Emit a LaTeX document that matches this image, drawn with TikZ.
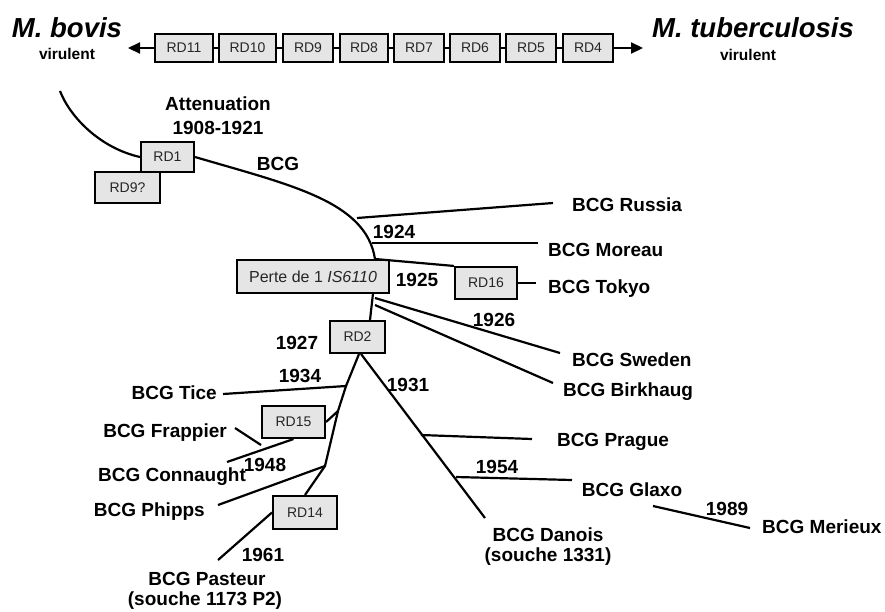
\documentclass[tikz,border=0pt]{standalone}
\usepackage{fontspec}
\setmainfont{Liberation Sans}
\usetikzlibrary{arrows.meta}
\begin{document}
\begin{tikzpicture}[x=1pt,y=-1pt,
  rdbox/.style={draw, line width=2.1pt, fill=black!10, inner sep=0pt, text=black!85,
    font=\fontsize{14}{16}\selectfont},
  lab/.style={font=\bfseries\fontsize{19}{22}\selectfont, inner sep=0pt},
  sp/.style={font=\bfseries\itshape\fontsize{27.5}{30}\selectfont, inner sep=0pt},
  vir/.style={font=\bfseries\fontsize{15.5}{17}\selectfont, inner sep=0pt},
  br/.style={line width=2.2pt},
  tip/.style={-{Triangle[length=12pt,width=11pt]}}
  ]
\useasboundingbox (0,0) rectangle (885,611);
% top row
\node[rdbox, minimum width=58pt, minimum height=28pt] (rd11) at (184,48) {RD11};
\node[rdbox, minimum width=57pt, minimum height=28pt] (rd10) at (247.5,48) {RD10};
\node[rdbox, minimum width=50pt, minimum height=28pt] (rd9) at (308,48) {RD9};
\node[rdbox, minimum width=48pt, minimum height=28pt] (rd8) at (364,48) {RD8};
\node[rdbox, minimum width=50pt, minimum height=28pt] (rd7) at (419,48) {RD7};
\node[rdbox, minimum width=50pt, minimum height=28pt] (rd6) at (475,48) {RD6};
\node[rdbox, minimum width=50pt, minimum height=28pt] (rd5) at (531,48) {RD5};
\node[rdbox, minimum width=50pt, minimum height=28pt] (rd4) at (588,48) {RD4};
\coordinate (tipL) at (128,48);
\coordinate (tipR) at (643,48);
\draw[br,tip] (rd11.west) -- (tipL);
\draw[br,tip] (rd4.east) -- (tipR);
\draw[br] (rd11) -- (rd10);
\draw[br] (rd10) -- (rd9);
\draw[br] (rd9) -- (rd8);
\draw[br] (rd8) -- (rd7);
\draw[br] (rd7) -- (rd6);
\draw[br] (rd6) -- (rd5);
\draw[br] (rd5) -- (rd4);
\node[sp] (bovis) at (67,28) {M. bovis};
\node[vir] (virL) at (67,54) {virulent};
\node[sp] (tuber) at (753,28) {M. tuberculosis};
\node[vir] (virR) at (748,55) {virulent};

% boxes of tree
\node[rdbox, minimum width=65pt, minimum height=31pt] (rd9q) at (127.5,187.5) {RD9?};
\node[rdbox, minimum width=53pt, minimum height=30pt] (rd1) at (167.5,157) {RD1};
\node[rdbox, minimum width=152pt, minimum height=33pt, font=\fontsize{16}{18}\selectfont] (perte) at (313,276.5) {Perte de 1 \textit{IS6110}};
\node[rdbox, minimum width=62pt, minimum height=32pt] (rd16) at (486,283) {RD16};
\node[rdbox, minimum width=55pt, minimum height=32pt] (rd2) at (357.5,337) {RD2};
\node[rdbox, minimum width=63pt, minimum height=32pt] (rd15) at (293.5,422) {RD15};
\node[rdbox, minimum width=64pt, minimum height=33pt] (rd14) at (305,512.5) {RD14};

% labels
\node[lab] (att) at (218,104) {Attenuation};
\node[lab] (attd) at (218,128) {1908-1921};
\node[lab] (bcg) at (278,164) {BCG};
\node[lab, anchor=west] (russia) at (572,205) {BCG Russia};
\node[lab] (y1924) at (394,232) {1924};
\node[lab, anchor=west] (moreau) at (548,250) {BCG Moreau};
\node[lab] (y1925) at (417,280) {1925};
\node[lab, anchor=west] (tokyo) at (548,289) {BCG Tokyo};
\node[lab] (y1926) at (494,320) {1926};
\node[lab, anchor=west] (sweden) at (572,360) {BCG Sweden};
\node[lab, anchor=west] (birk) at (563,392) {BCG Birkhaug};
\node[lab] (y1927) at (297,343) {1927};
\node[lab] (y1931) at (408,385) {1931};
\node[lab] (y1934) at (300,376) {1934};
\node[lab, anchor=east] (tice) at (217,393) {BCG Tice};
\node[lab, anchor=east] (frap) at (227,433) {BCG Frappier};
\node[lab] (y1948) at (265,465) {1948};
\node[lab] (conn) at (172,477) {BCG Connaught};
\node[lab, anchor=east] (phipps) at (205,512) {BCG Phipps};
\node[lab] (y1961) at (263,555) {1961};
\node[lab] (past) at (207,579) {BCG Pasteur};
\node[lab] (pastb) at (205,601) {(souche 1173 P2)};
\node[lab] (prague) at (613,442) {BCG Prague};
\node[lab] (y1954) at (497,467) {1954};
\node[lab] (glaxo) at (632,490) {BCG Glaxo};
\node[lab] (y1989) at (727,509) {1989};
\node[lab, anchor=west] (merieux) at (762,527) {BCG Merieux};
\node[lab] (danois) at (548,535) {BCG Danois};
\node[lab] (danoisb) at (548,557) {(souche 1331)};

% coordinates
\coordinate (start) at (60,91);
\coordinate (jR) at (357,218);
\coordinate (eR) at (553,203);
\coordinate (jM) at (372,243);
\coordinate (eM) at (538,243);
\coordinate (jT) at (375,259);
\coordinate (eT) at (536,283);
\coordinate (jS) at (375,298);
\coordinate (eS) at (560,353);
\coordinate (jB) at (375,305);
\coordinate (eB) at (553,383);
\coordinate (l0) at (359,354);
\coordinate (l1) at (346,386);
\coordinate (l2) at (338,411);
\coordinate (l3) at (325,466);
\coordinate (eTice) at (223,394);
\coordinate (eConn) at (227,462);
\coordinate (eFrap) at (235,428);
\coordinate (jF) at (261,445);
\coordinate (ePh) at (218,505);
\coordinate (ePa) at (218,560);
\coordinate (d0) at (361,354);
\coordinate (d1) at (485,518);
\coordinate (jP) at (421,435);
\coordinate (eP) at (532,439);
\coordinate (jG) at (456,477);
\coordinate (eG) at (572,480);
\coordinate (m0) at (653,506);
\coordinate (m1) at (750,528);

% branches
\draw[br] (start) .. controls (70,117) and (100,148) .. (rd1.west);
\draw[br] (rd1.east) .. controls (290,185) and (366,201) .. (jT);
\draw[br] (jR) -- (eR);
\draw[br] (jM) -- (eM);
\draw[br] (jT) -- (rd16.north west);
\draw[br] (rd16.east) -- (eT);
\draw[br] (jS) -- (eS);
\draw[br] (jB) -- (eB);
\draw[br] (373,293.5) -- (rd2.north -| 370,0);
\draw[br] (l0) -- (l1) -- (l2) -- (l3) -- (rd14.north);
\draw[br] (l1) -- (eTice);
\draw[br] (rd15.east) -- (l2);
\draw[br] (rd15.south) -- (eConn);
\draw[br] (eFrap) -- (jF);
\draw[br] (l3) -- (ePh);
\draw[br] (rd14.west) -- (ePa);
\draw[br] (d0) -- (d1);
\draw[br] (jP) -- (eP);
\draw[br] (jG) -- (eG);
\draw[br] (m0) -- (m1);
\end{tikzpicture}
\end{document}
